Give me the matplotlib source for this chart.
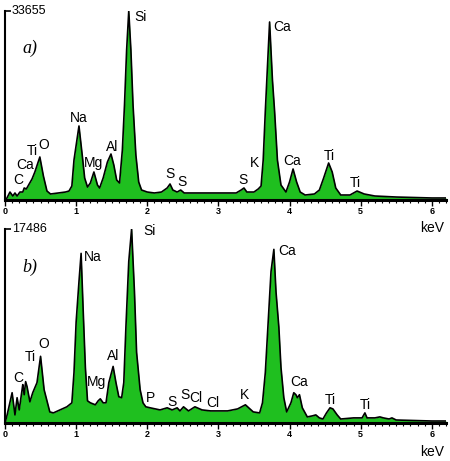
import matplotlib
matplotlib.use("Agg")
import matplotlib.pyplot as plt
from matplotlib.ticker import MultipleLocator

# ---------------- data ----------------
kev_a = [0.00, 0.02, 0.07, 0.11, 0.14, 0.17, 0.21, 0.25, 0.27, 0.30, 0.38, 0.42, 0.49, 0.54,
         0.59, 0.64, 0.75, 0.85, 0.90, 0.94, 0.97, 1.04, 1.09, 1.12, 1.16, 1.20, 1.25, 1.30,
         1.33, 1.38, 1.44, 1.49, 1.53, 1.57, 1.61, 1.65, 1.68, 1.71, 1.74, 1.77, 1.80, 1.84,
         1.88, 1.92, 2.00, 2.10, 2.20, 2.28, 2.32, 2.36, 2.42, 2.47, 2.52, 2.70, 3.00, 3.25,
         3.32, 3.36, 3.40, 3.50, 3.56, 3.60, 3.63, 3.66, 3.72, 3.76, 3.79, 3.83, 3.88, 3.95,
         4.00, 4.05, 4.10, 4.15, 4.22, 4.35, 4.42, 4.48, 4.55, 4.60, 4.65, 4.72, 4.85, 4.95,
         5.05, 5.20, 5.50, 6.00, 6.20]
counts_a = [0, 180, 1420, 710, 1250, 710, 1420, 1420, 2140, 1960, 3740, 4990, 7660, 4270,
            1600, 1070, 1250, 1420, 1600, 2490, 7120, 13180, 7500, 3920, 2310, 3030, 4990, 2670,
            2140, 3920, 6770, 8190, 6230, 3560, 3030, 8900, 16920, 26710, 33655, 26710, 16920, 8010,
            3200, 1780, 1420, 1250, 1420, 2140, 2850, 1780, 1420, 1780, 1250, 1250, 1250, 1250,
            1780, 2140, 1420, 1420, 1960, 2490, 7120, 15850, 31700, 21370, 15850, 7120, 2670, 1420,
            3200, 5520, 3200, 1420, 890, 1070, 1780, 3920, 6590, 4990, 2140, 890, 890, 1600,
            1070, 710, 530, 360, 360]

kev_b = [0.00, 0.03, 0.10, 0.14, 0.17, 0.20, 0.24, 0.25, 0.27, 0.29, 0.31, 0.35, 0.39, 0.45,
         0.50, 0.55, 0.63, 0.68, 0.87, 0.94, 0.97, 1.00, 1.04, 1.07, 1.10, 1.13, 1.16, 1.20,
         1.27, 1.31, 1.34, 1.38, 1.42, 1.46, 1.52, 1.56, 1.60, 1.64, 1.67, 1.70, 1.74, 1.78,
         1.82, 1.85, 1.90, 1.94, 1.98, 2.04, 2.18, 2.28, 2.35, 2.42, 2.46, 2.51, 2.58, 2.67,
         2.77, 2.89, 3.13, 3.27, 3.38, 3.49, 3.58, 3.62, 3.66, 3.70, 3.74, 3.78, 3.81, 3.85,
         3.88, 3.92, 3.96, 4.02, 4.06, 4.09, 4.11, 4.14, 4.18, 4.25, 4.32, 4.37, 4.42, 4.47,
         4.52, 4.57, 4.61, 4.67, 4.72, 4.90, 5.02, 5.06, 5.09, 5.20, 5.27, 5.32, 5.40, 5.44,
         5.50, 6.00, 6.20]
counts_b = [0, 730, 2730, 730, 2280, 1180, 3000, 3460, 2550, 3730, 3280, 1910, 2730, 3640,
            6010, 3000, 1000, 910, 1460, 1820, 4550, 9100, 12740, 15290, 10010, 5010, 2000, 1820,
            1640, 2000, 2180, 1820, 1820, 3640, 5100, 3640, 2370, 2280, 3640, 8650, 14560, 17486,
            11830, 6370, 3000, 1820, 1460, 1370, 1180, 1370, 1180, 1370, 1090, 1460, 1090, 1460,
            1180, 1090, 1090, 1270, 1640, 1000, 910, 1820, 4550, 9100, 13650, 15650, 11830, 8650,
            5010, 2280, 1000, 1820, 2730, 2550, 2280, 2550, 1370, 550, 640, 730, 460, 360,
            910, 1370, 1270, 730, 360, 460, 460, 910, 460, 460, 550, 460, 360, 460,
            270, 180, 180]

max_a = 33655
max_b = 17486

labels_a = ["Si", "Ca", "Na", "Mg", "Al", "O", "Ti", "Ca", "C", "S", "S", "S", "K", "Ca", "Ti", "Ti"]
lab_kev_a = [1.90, 3.90, 1.04, 1.24, 1.50, 0.55, 0.38, 0.28, 0.19, 2.32, 2.49, 3.34, 3.51, 4.04, 4.56, 4.93]
lab_cnt_a = [32570, 30790, 14600, 6590, 9430, 9790, 8700, 6300, 3500, 4630, 3200, 3560, 6590, 6940, 7830, 3030]

labels_b = ["Si", "Na", "O", "Ti", "C", "Al", "Mg", "P", "S", "S", "Cl", "Cl", "Ca", "K", "Ca", "Ti", "Ti"]
lab_kev_b = [2.03, 1.24, 0.55, 0.35, 0.18, 1.52, 1.29, 2.04, 2.35, 2.53, 2.68, 2.92, 3.97, 3.37, 4.13, 4.58, 5.07]
lab_cnt_b = [17300, 14920, 7100, 5920, 4100, 6010, 3730, 2280, 1910, 2550, 2280, 1820, 15470, 2550, 3730, 2090, 1640]

# ---------------- style ----------------
GREEN = "#1fbf1f"
FONT = "Liberation Sans"

fig = plt.figure(figsize=(4.5, 4.61), dpi=100)

def panel(rect, kev, counts, ymax, tag, labels, lk, lc):
    ax = fig.add_axes(rect)
    ax.patch.set_visible(False)
    ax.fill_between(kev, counts, 0, color=GREEN, lw=0, zorder=2)
    ax.plot(kev, counts, color="black", lw=1.2, zorder=3)
    ax.set_xlim(0, 6.2)
    ax.set_ylim(0, ymax)
    for s in ("top", "right"):
        ax.spines[s].set_visible(False)
    ax.spines["left"].set_linewidth(1.5)
    ax.spines["bottom"].set_linewidth(2.2)
    ax.spines["bottom"].set_zorder(4)
    ax.xaxis.set_major_locator(MultipleLocator(1))
    ax.xaxis.set_minor_locator(MultipleLocator(0.1))
    ax.tick_params(axis="x", which="major", length=4, width=1.0, pad=1,
                   labelsize=6.5, direction="out")
    ax.tick_params(axis="x", which="minor", length=2, width=0.8, direction="out")
    for t in ax.get_xticklabels():
        t.set_fontfamily(FONT)
        t.set_fontweight("bold")
    ax.set_yticks([ymax])
    ax.tick_params(axis="y", which="major", length=4, width=1.2, direction="in",
                   labelleft=False)
    ax.text(0.015, 1.0, str(ymax), transform=ax.transAxes, ha="left", va="center",
            fontsize=9, family=FONT)
    ax.text(0.04, 0.80, tag, transform=ax.transAxes, ha="left", va="center",
            fontsize=13, family="Liberation Serif", style="italic")
    ax.text(6.17, -0.15, "keV", transform=ax.get_xaxis_transform(), ha="right",
            va="center", fontsize=10, family=FONT, zorder=6)
    for name, x, y in zip(labels, lk, lc):
        ax.text(x, y, name, ha="center", va="center", fontsize=10, family=FONT,
                zorder=5, clip_on=False)
    return ax

panel([5 / 450, 1 - 200 / 461, 441 / 450, 189 / 461], kev_a, counts_a, max_a, "a)",
      labels_a, lab_kev_a, lab_cnt_a)
panel([5 / 450, 1 - 423 / 461, 441 / 450, 194 / 461], kev_b, counts_b, max_b, "b)",
      labels_b, lab_kev_b, lab_cnt_b)

fig.savefig("out.png", dpi=100)
